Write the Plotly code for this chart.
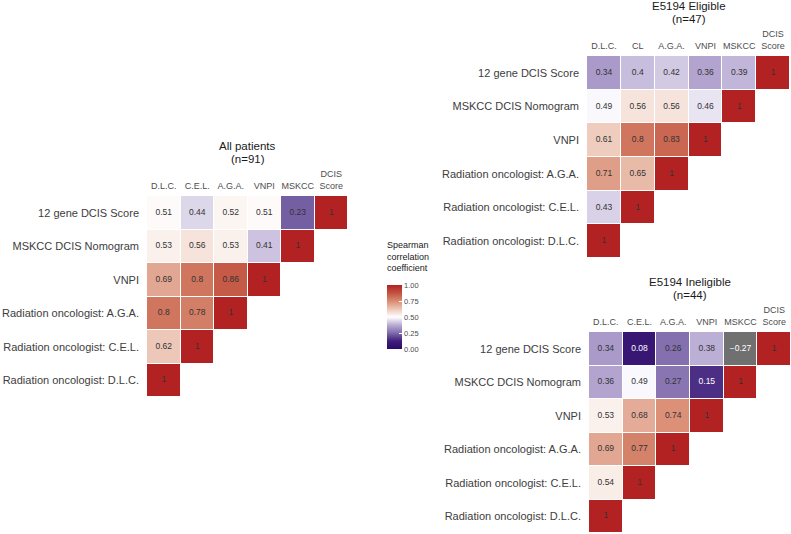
import plotly.graph_objects as go

# ---------------- data ----------------
ROW_LABELS = [
    "12 gene DCIS Score",
    "MSKCC DCIS Nomogram",
    "VNPI",
    "Radiation oncologist: A.G.A.",
    "Radiation oncologist: C.E.L.",
    "Radiation oncologist: D.L.C.",
]
COLS_ALL = ["D.L.C.", "C.E.L.", "A.G.A.", "VNPI", "MSKCC", "DCIS<br>Score"]
COLS_ELIG = ["D.L.C.", "CL", "A.G.A.", "VNPI", "MSKCC", "DCIS<br>Score"]
COLS_INELIG = ["D.L.C.", "C.E.L.", "A.G.A.", "VNPI", "MSKCC", "DCIS<br>Score"]

ALL_PATIENTS = [
    [0.51, 0.44, 0.52, 0.51, 0.23, 1],
    [0.53, 0.56, 0.53, 0.41, 1],
    [0.69, 0.8, 0.86, 1],
    [0.8, 0.78, 1],
    [0.62, 1],
    [1],
]
ELIGIBLE = [
    [0.34, 0.4, 0.42, 0.36, 0.39, 1],
    [0.49, 0.56, 0.56, 0.46, 1],
    [0.61, 0.8, 0.83, 1],
    [0.71, 0.65, 1],
    [0.43, 1],
    [1],
]
INELIGIBLE = [
    [0.34, 0.08, 0.26, 0.38, -0.27, 1],
    [0.36, 0.49, 0.27, 0.15, 1],
    [0.53, 0.68, 0.74, 1],
    [0.69, 0.77, 1],
    [0.54, 1],
    [1],
]

TITLES = ["All patients", "E5194 Eligible", "E5194 Ineligible"]
NS = ["(n=91)", "(n=47)", "(n=44)"]
LEGEND_TICKS = [0, 0.25, 0.5, 0.75, 1.0]

# ---------------- style ----------------
W, H = 791, 534
FONT = "Liberation Sans, Arial, Helvetica, sans-serif"
COLORSCALE = [
    [0.0, "#2a0a66"],
    [0.125, "#3f1f7b"],
    [0.25, "#7f6bab"],
    [0.375, "#b9acd4"],
    [0.5, "#ffffff"],
    [0.625, "#ecc6b6"],
    [0.75, "#d98b72"],
    [0.875, "#c25340"],
    [1.0, "#b22222"],
]
NA_COLOR = "#707070"

# pixel boxes of each grid: (left, top, right, bottom)
BOXES = [(147, 196, 348, 397), (587, 56, 790, 258), (589, 332, 791, 533)]


def px_x(p):
    return p / W


def px_y(p):
    return 1 - p / H


def fmt(v):
    return f"{v:g}".replace("-", "\u2212")


fig = go.Figure()
panels = [(ALL_PATIENTS, COLS_ALL), (ELIGIBLE, COLS_ELIG), (INELIGIBLE, COLS_INELIG)]
n = len(ROW_LABELS)

for k, (vals, cols) in enumerate(panels):
    ax = "" if k == 0 else str(k + 1)
    z = [[None] * n for _ in range(n)]
    zna = [[None] * n for _ in range(n)]
    tx, ty, tt, tc = [], [], [], []
    for i, row in enumerate(vals):
        for j, v in enumerate(row):
            if 0 <= v <= 1:
                z[i][j] = v
            else:
                zna[i][j] = 0
            tx.append(j)
            ty.append(i)
            tt.append(fmt(v))
            tc.append("#ffffff" if v < 0.2 else "#333333")
    fig.add_trace(go.Heatmap(
        z=z, x=list(range(n)), y=list(range(n)),
        colorscale=COLORSCALE, zmin=0, zmax=1,
        xgap=1, ygap=1, hoverongaps=False,
        showscale=(k == 0),
        colorbar=dict(
            x=px_x(387), xanchor="left", y=px_y(317), yanchor="middle",
            len=64 / H, lenmode="fraction", thickness=15, thicknessmode="pixels",
            outlinewidth=0, ticks="inside", ticklen=3, tickcolor="#ffffff",
            tickvals=LEGEND_TICKS, ticktext=[f"{t:.2f}" for t in LEGEND_TICKS],
            tickfont=dict(family=FONT, size=7.5, color="#4d4d4d"),
            xpad=0, ypad=0,
        ),
        xaxis="x" + ax, yaxis="y" + ax,
    ))
    fig.add_trace(go.Heatmap(
        z=zna, x=list(range(n)), y=list(range(n)),
        colorscale=[[0, NA_COLOR], [1, NA_COLOR]], zmin=0, zmax=1,
        xgap=1, ygap=1, hoverongaps=False, showscale=False,
        xaxis="x" + ax, yaxis="y" + ax,
    ))
    fig.add_trace(go.Scatter(
        x=tx, y=ty, text=tt, mode="text", textposition="middle center",
        textfont=dict(family=FONT, size=8.5, color=tc),
        hoverinfo="skip", showlegend=False,
        xaxis="x" + ax, yaxis="y" + ax,
    ))
    l, t, r, b = BOXES[k]
    fig.update_layout(**{
        "xaxis" + ax: dict(
            domain=[px_x(l), min(px_x(r), 1)], range=[-0.5, n - 0.5], anchor="y" + ax,
            side="top", showgrid=False, zeroline=False, showline=False, ticks="",
            tickvals=list(range(n)), ticktext=cols, ticklabelstandoff=4,
            tickfont=dict(family=FONT, size=9, color="#4d4d4d"), fixedrange=True,
        ),
        "yaxis" + ax: dict(
            domain=[max(px_y(b), 0), px_y(t)], range=[n - 0.5, -0.5], anchor="x" + ax,
            showgrid=False, zeroline=False, showline=False, ticks="",
            tickvals=list(range(n)), ticktext=ROW_LABELS, ticklabelstandoff=7,
            tickfont=dict(family=FONT, size=11, color="#3d3d3d"), fixedrange=True,
        ),
    })
    cx = px_x((l + r) / 2)
    fig.add_annotation(x=cx, y=px_y(t - 50), xref="paper", yref="paper",
                       text=TITLES[k], showarrow=False,
                       xanchor="center", yanchor="middle",
                       font=dict(family=FONT, size=11.5, color="#1a1a1a"))
    fig.add_annotation(x=cx, y=px_y(t - 37), xref="paper", yref="paper",
                       text=NS[k], showarrow=False,
                       xanchor="center", yanchor="middle",
                       font=dict(family=FONT, size=11.5, color="#1a1a1a"))

fig.add_annotation(x=px_x(385), y=px_y(238), xref="paper", yref="paper",
                   text="Spearman<br>correlation<br>coefficient", showarrow=False,
                   xanchor="left", yanchor="top", align="left",
                   font=dict(family=FONT, size=9, color="#1a1a1a"))

fig.update_layout(
    width=W, height=H, autosize=False,
    margin=dict(l=0, r=0, t=0, b=0),
    paper_bgcolor="white", plot_bgcolor="white",
    showlegend=False,
)

fig.write_html("out.html", config={"displayModeBar": False},
               post_script="document.body.style.margin='0px';")
